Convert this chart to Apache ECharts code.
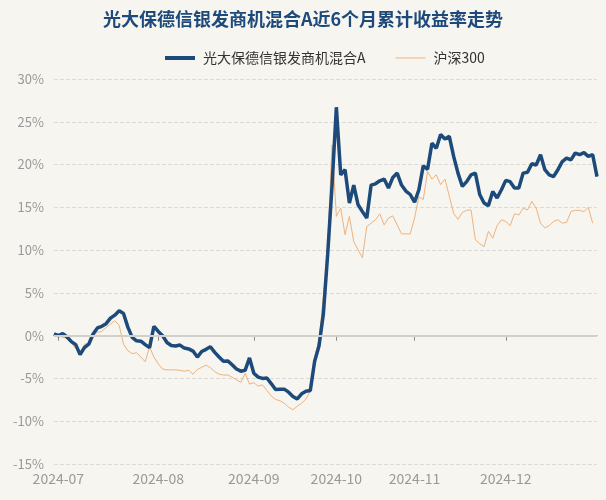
<!DOCTYPE html>
<html>
<head>
<meta charset="utf-8">
<script src="https://cdn.jsdelivr.net/npm/echarts@6/dist/echarts.min.js"></script>
<style>
html,body{margin:0;padding:0;background:#f7f5f0;}
#chart{width:606px;height:500px;}
</style>
</head>
<body>
<div id="chart"></div>
<script>
const titleText = '光大保德信银发商机混合A近6个月累计收益率走势';
const fundName = '光大保德信银发商机混合A';
const indexName = '沪深300';

const dates = [
'2024-06-28',
'2024-07-01','2024-07-02','2024-07-03','2024-07-04','2024-07-05','2024-07-08','2024-07-09','2024-07-10','2024-07-11','2024-07-12',
'2024-07-15','2024-07-16','2024-07-17','2024-07-18','2024-07-19','2024-07-22','2024-07-23','2024-07-24','2024-07-25','2024-07-26',
'2024-07-29','2024-07-30','2024-07-31',
'2024-08-01','2024-08-02','2024-08-05','2024-08-06','2024-08-07','2024-08-08','2024-08-09','2024-08-12','2024-08-13','2024-08-14',
'2024-08-15','2024-08-16','2024-08-19','2024-08-20','2024-08-21','2024-08-22','2024-08-23','2024-08-26','2024-08-27','2024-08-28',
'2024-08-29','2024-08-30',
'2024-09-02','2024-09-03','2024-09-04','2024-09-05','2024-09-06','2024-09-09','2024-09-10','2024-09-11','2024-09-12','2024-09-13',
'2024-09-18','2024-09-19','2024-09-20','2024-09-23','2024-09-24','2024-09-25','2024-09-26','2024-09-27','2024-09-30',
'2024-10-08','2024-10-09','2024-10-10','2024-10-11','2024-10-14','2024-10-15','2024-10-16','2024-10-17','2024-10-18','2024-10-21',
'2024-10-22','2024-10-23','2024-10-24','2024-10-25','2024-10-28','2024-10-29','2024-10-30','2024-10-31',
'2024-11-01','2024-11-04','2024-11-05','2024-11-06','2024-11-07','2024-11-08','2024-11-11','2024-11-12','2024-11-13','2024-11-14',
'2024-11-15','2024-11-18','2024-11-19','2024-11-20','2024-11-21','2024-11-22','2024-11-25','2024-11-26','2024-11-27','2024-11-28',
'2024-11-29',
'2024-12-02','2024-12-03','2024-12-04','2024-12-05','2024-12-06','2024-12-09','2024-12-10','2024-12-11','2024-12-12','2024-12-13',
'2024-12-16','2024-12-17','2024-12-18','2024-12-19','2024-12-20','2024-12-23','2024-12-24','2024-12-25','2024-12-26','2024-12-27',
'2024-12-30','2024-12-31'
];

const fundValues = [
0.2,0.0,0.25,-0.15,-0.7,-1.05,-2.2,-1.4,-1.0,0.2,
0.9,1.1,1.4,2.05,2.4,2.9,2.6,1.0,-0.2,-0.6,
-0.65,-1.05,-1.4,1.1,0.5,0.0,-0.8,-1.15,-1.2,-1.1,
-1.45,-1.55,-1.8,-2.5,-1.85,-1.6,-1.3,-1.95,-2.5,-3.0,
-2.95,-3.4,-3.9,-4.15,-4.05,-2.6,-4.4,-4.85,-5.0,-4.95,
-5.6,-6.3,-6.25,-6.25,-6.6,-7.1,-7.4,-6.8,-6.5,-6.4,
-3.0,-1.2,2.5,9.5,17.5,26.7,18.8,19.4,15.5,17.6,
15.3,14.5,13.75,17.6,17.75,18.1,18.3,17.25,18.5,19.0,
17.6,16.9,16.5,15.6,17.05,19.85,19.45,22.5,21.9,23.5,
23.0,23.3,20.95,19.0,17.45,18.0,18.8,19.0,16.5,15.5,
15.2,16.85,16.1,17.05,18.15,18.0,17.25,17.25,19.0,19.1,
20.1,19.95,21.15,19.4,18.8,18.6,19.4,20.35,20.75,20.55,
21.35,21.15,21.4,20.95,21.15,18.6
];

const indexValues = [
0.2,0.0,-0.2,-0.3,-0.9,-1.5,-2.1,-1.0,-0.9,0.0,
0.4,0.5,0.95,1.35,1.75,1.2,-1.0,-1.75,-2.1,-2.0,
-2.5,-3.05,-1.3,-2.5,-3.3,-3.9,-4.0,-4.0,-4.0,-4.05,
-4.15,-4.05,-4.5,-3.95,-3.7,-3.45,-3.75,-4.2,-4.5,-4.6,
-4.6,-4.85,-5.15,-5.45,-4.4,-5.65,-5.5,-5.9,-5.75,-6.4,
-7.05,-7.45,-7.6,-7.9,-8.35,-8.65,-8.25,-7.9,-7.4,-6.5,
-2.5,-0.5,4.5,10.5,22.3,13.95,14.9,11.8,13.95,11.0,
10.05,9.1,12.75,13.15,13.55,14.25,12.95,13.75,14.0,12.95,
11.9,11.9,11.9,13.75,16.25,15.9,19.2,18.3,18.8,17.65,
18.3,16.3,14.3,13.6,14.4,14.65,14.7,11.2,10.75,10.4,
12.2,11.4,12.85,13.55,13.35,12.85,14.25,14.1,14.9,14.7,
15.7,14.9,13.15,12.6,12.85,13.35,13.55,13.15,13.25,14.5,
14.65,14.65,14.5,15.0,13.15,null
];

const yMin = -15, yMax = 30, yStep = 5;

function isMonthStart(idx){
  return idx > 0 && dates[idx].slice(0,7) !== dates[idx-1].slice(0,7);
}

const FONT = '"Noto Sans CJK SC", "Noto Sans", sans-serif';
const FUND_COLOR = '#1c4a7a';
const INDEX_COLOR = '#efb27c';
const chart = echarts.init(document.getElementById('chart'), null, {renderer:'canvas'});
chart.setOption({
  backgroundColor: '#f7f5f0',
  animation: false,
  title: {
    text: titleText,
    left: 'center',
    top: 5,
    textStyle: {color:'#1d4a7b', fontSize:18, fontWeight:'bold', fontFamily: FONT}
  },
  legend: {
    top: 46,
    left: 160,
    itemGap: 30,
    itemWidth: 30,
    itemHeight: 12,
    symbolKeepAspect: true,
    data: [
      {name: fundName, icon: 'path://M0,0H30V4H0Z', itemStyle: {color: FUND_COLOR}},
      {name: indexName, icon: 'path://M0,0H30V1H0Z', itemStyle: {color: INDEX_COLOR}}
    ],
    textStyle: {color:'#333', fontSize:14, fontFamily: FONT, padding:[0,0,0,3]}
  },
  grid: {left: 54, right: 9, top: 79, bottom: 36},
  xAxis: {
    type: 'category',
    data: dates,
    boundaryGap: false,
    axisLine: {lineStyle: {color:'#8a8a8a', width:1}},
    axisTick: {show:true, length:5, interval: isMonthStart, lineStyle:{color:'#8a8a8a'}},
    axisLabel: {
      interval: isMonthStart,
      formatter: v => v.slice(0,7),
      color:'#999', fontSize:14, margin:8, fontFamily: FONT
    },
    splitLine: {show:false}
  },
  yAxis: {
    type: 'value',
    min: yMin, max: yMax, interval: yStep,
    axisLine: {show:false},
    axisTick: {show:false},
    axisLabel: {formatter: '{value}%', color:'#999', fontSize:13, margin:10, fontFamily: FONT},
    splitLine: {lineStyle: {type:'dashed', color:'#dcdad6', width:1}}
  },
  series: [
    {
      name: 'zero', type: 'line', data: [], z: 1, silent: true,
      markLine: {
        silent: true, symbol: 'none', label: {show:false},
        lineStyle: {color:'#d2d0cc', width:2, type:'solid'},
        data: [{yAxis: 0}]
      }
    },
    {
      name: indexName, type: 'line', data: indexValues, z: 2,
      symbol: 'none', showSymbol: false,
      lineStyle: {color: INDEX_COLOR, width:1},
      itemStyle: {color: INDEX_COLOR}
    },
    {
      name: fundName, type: 'line', data: fundValues, z: 3,
      symbol: 'none', showSymbol: false,
      lineStyle: {color: FUND_COLOR, width:3.5},
      itemStyle: {color: FUND_COLOR}
    }
  ]
});
</script>
</body>
</html>
